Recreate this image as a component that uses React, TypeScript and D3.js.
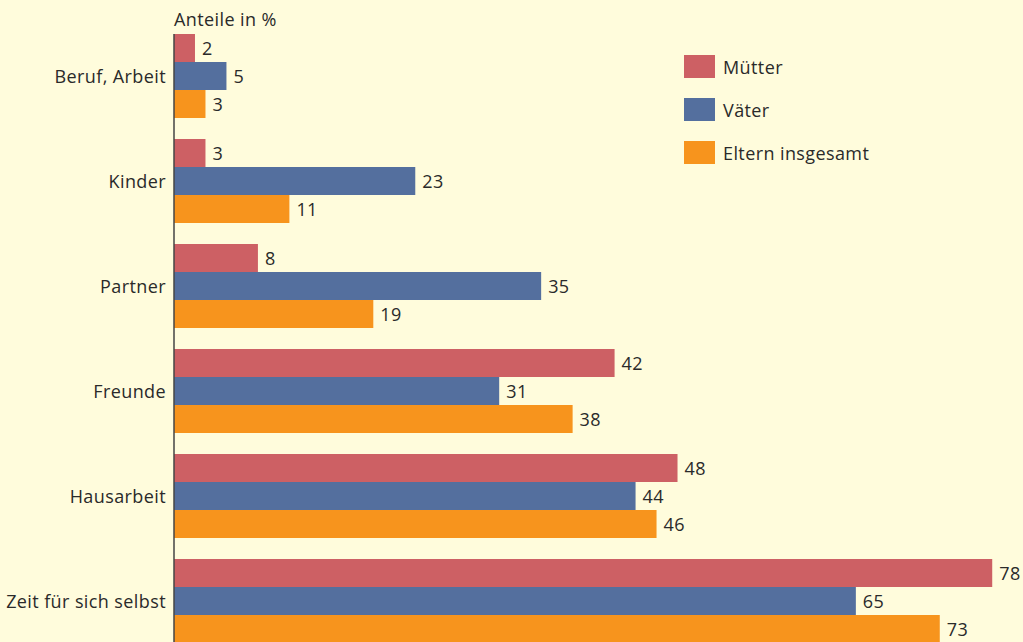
import React from "react";
import * as d3 from "d3";

const WIDTH = 1023;
const HEIGHT = 642;
const MARGIN = { top: 34, left: 174 };

const categories = ["Beruf, Arbeit", "Kinder", "Partner", "Freunde", "Hausarbeit", "Zeit für sich selbst"];
const series = ["Mütter", "Väter", "Eltern insgesamt"];
const muetter = [2, 3, 8, 42, 48, 78];
const vaeter = [5, 23, 35, 31, 44, 65];
const eltern = [3, 11, 19, 38, 46, 73];
const colors = ["#cd6064", "#546f9e", "#f7941d"];

const FONT = "'Open Sans', Arial, sans-serif";
const TEXT = "#2a2a2a";
const FS = 18;
const LS = 0.4;

const App = () => {
  const values = [muetter, vaeter, eltern];

  // 10.49 px per percent point
  const xScale = d3.scaleLinear().domain([0, 100]).range([0, 1049]);

  // step 105px, 84px of bars, 21px gap
  const yScale = d3
    .scaleBand()
    .domain(categories)
    .range([0, 105 * categories.length - 21])
    .paddingInner(21 / 105)
    .paddingOuter(0);

  const inner = d3
    .scaleBand()
    .domain(series)
    .range([0, yScale.bandwidth()]);

  const bars = categories.map((cat, ci) => {
    const gy = yScale(cat) ?? 0;
    return (
      <g key={cat} transform={`translate(0,${gy})`}>
        {series.map((s, si) => {
          const v = values[si][ci];
          const y = inner(s) ?? 0;
          return (
            <g key={s}>
              <rect x={0} y={y} width={xScale(v)} height={inner.bandwidth()} fill={colors[si]} />
              <text
                x={xScale(v) + 7}
                y={y + inner.bandwidth() / 2}
                dominantBaseline="central"
                fontSize={FS}
                letterSpacing={LS}
                fill={TEXT}
              >
                {v}
              </text>
            </g>
          );
        })}
        <text
          x={-8}
          y={(inner("Väter") ?? 0) + inner.bandwidth() / 2}
          textAnchor="end"
          dominantBaseline="central"
          fontSize={FS}
          letterSpacing={LS}
          fill={TEXT}
        >
          {cat}
        </text>
      </g>
    );
  });

  const legend = series.map((s, i) => (
    <g key={s} transform={`translate(684,${55 + i * 43})`}>
      <rect x={0} y={0} width={31} height={23} fill={colors[i]} />
      <text x={39} y={12} dominantBaseline="central" fontSize={FS} letterSpacing={LS} fill={TEXT}>
        {s}
      </text>
    </g>
  ));

  return (
    <div style={{ position: "absolute", left: 0, top: 0 }}>
      <svg width={WIDTH} height={HEIGHT} style={{ display: "block", fontFamily: FONT }}>
        <rect width={WIDTH} height={HEIGHT} fill="#fffcdc" />
        <text x={174} y={26} fontSize={FS} letterSpacing={LS} fill={TEXT}>
          Anteile in %
        </text>
        <g transform={`translate(${MARGIN.left},${MARGIN.top})`}>
          {bars}
          <line x1={0} x2={0} y1={0} y2={HEIGHT} stroke="#444" strokeWidth={1.5} />
        </g>
        {legend}
      </svg>
    </div>
  );
};

export default App;
